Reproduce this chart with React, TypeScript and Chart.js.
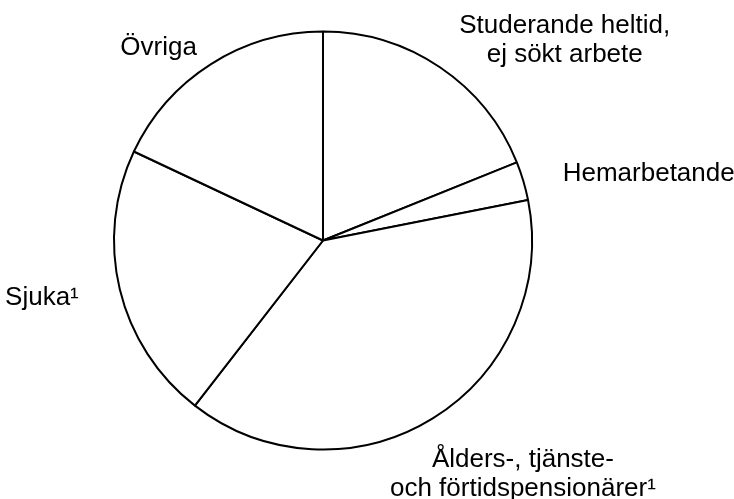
import React, { useEffect, useRef } from "react";
import { Chart, registerables } from "chart.js";

Chart.register(...registerables);

const categories: string[] = [
  "Studerande heltid,\nej sökt arbete",
  "Hemarbetande",
  "Ålders-, tjänste-\noch förtidspensionärer¹",
  "Sjuka¹",
  "Övriga",
];
const shares: number[] = [18.9, 3.0, 38.6, 21.5, 18.0];

// label anchor in units of pie radius relative to centre, and alignment
const labelFx: number[] = [1.151, 1.551, 0.952, -1.163, -0.783];
const labelFy: number[] = [-0.988, -0.281, 1.078, 0.309, -0.882];
const labelAlign: CanvasTextAlign[] = ["center", "center", "center", "right", "center"];

const FONT = '26px "Liberation Sans", Arial, sans-serif';
const LINE_H = 29;

const labelPlugin = {
  id: "outsideLabels",
  afterDraw(chart: any) {
    const meta = chart.getDatasetMeta(0);
    const arc0 = meta.data[0];
    if (!arc0) return;
    const cx = arc0.x;
    const cy = arc0.y;
    const r = arc0.outerRadius + 1;
    const ctx = chart.ctx;
    ctx.save();
    ctx.font = FONT;
    ctx.fillStyle = "#000";
    ctx.textBaseline = "alphabetic";
    categories.forEach((lab, i) => {
      const x = cx + labelFx[i] * r;
      const y = cy + labelFy[i] * r;
      ctx.textAlign = labelAlign[i];
      lab.split("\n").forEach((line, j) => {
        ctx.fillText(line, x, y + j * LINE_H);
      });
    });
    ctx.restore();
  },
};

export default function App() {
  const ref = useRef<HTMLCanvasElement | null>(null);
  useEffect(() => {
    if (!ref.current) return;
    const chart = new Chart(ref.current, {
      type: "pie",
      data: {
        labels: categories,
        datasets: [
          {
            data: shares,
            backgroundColor: "#ffffff",
            borderColor: "#000000",
            borderWidth: 2,
          },
        ],
      },
      options: {
        responsive: false,
        animation: false,
        layout: { padding: { left: 113, top: 30.5, right: 201, bottom: 48.5 } },
        plugins: {
          legend: { display: false },
          tooltip: { enabled: false },
        },
      },
      plugins: [labelPlugin],
    });
    return () => chart.destroy();
  }, []);
  return (
    <div style={{ position: "fixed", left: 0, top: 0, width: 734, height: 499, background: "#fff" }}>
      <canvas ref={ref} width={734} height={499} style={{ display: "block" }} />
    </div>
  );
}
